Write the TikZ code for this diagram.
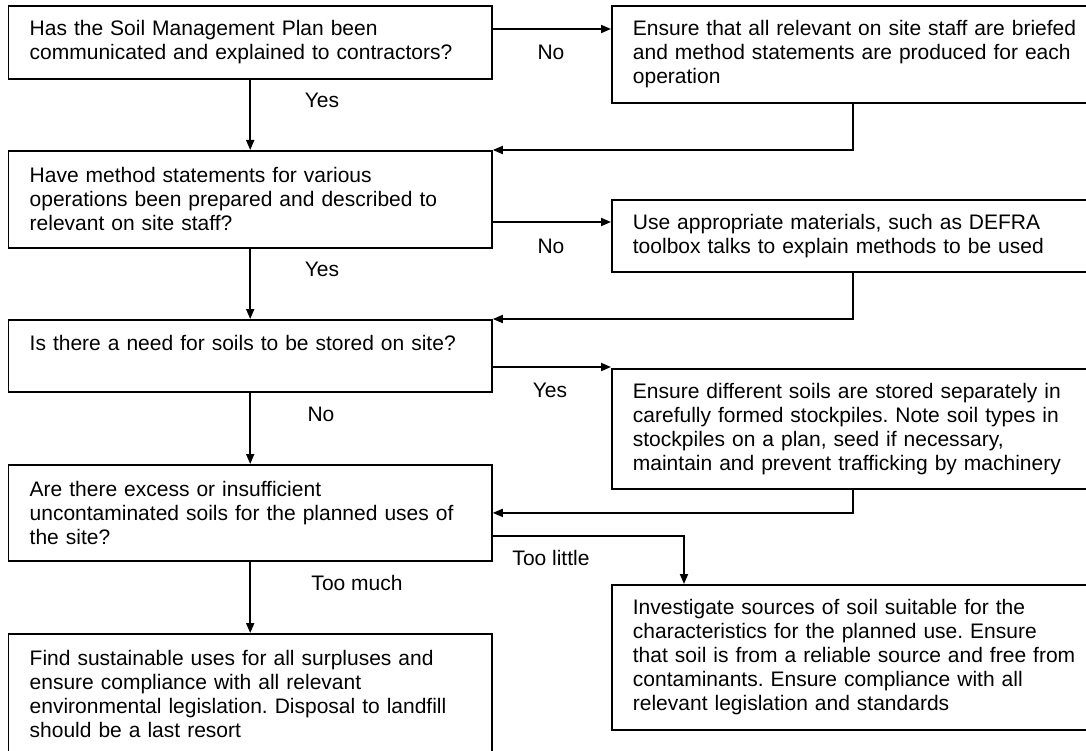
\documentclass[tikz,border=0pt]{standalone}
\usepackage{fontspec}
\setmainfont{Liberation Sans}
\usepackage{tikz}
\usetikzlibrary{arrows.meta}
\frenchspacing

\begin{document}
\begin{tikzpicture}[x=1pt, y=-1pt,
	box/.style={draw, line width=1.8pt, anchor=north west, inner xsep=21pt, inner ysep=0pt, align=left, font=\fontsize{21}{24}\selectfont},
	qbox/.style={box, minimum width=483.4pt, text width=441pt},
	abox/.style={box, minimum width=502pt, text width=460pt},
	lbl/.style={inner sep=0pt, font=\fontsize{21}{24}\selectfont},
	flow/.style={line width=1.8pt, -{Triangle[length=10pt,width=8pt]}}]
	\useasboundingbox (0,0) rectangle (1086,751);
	\node (q1) at (7.6,5) [qbox, minimum height=73pt] {Has the Soil Management Plan been\\communicated and explained to contractors?};
	\node (q2) at (7.6,150) [qbox, minimum height=97pt] {Have method statements for various\\operations been prepared and described to\\relevant on site staff?};
	\node (q3) at (7.6,319) [qbox, minimum height=72pt, text height=31pt, text depth=41pt] {Is there a need for soils to be stored on site?};
	\node (q4) at (7.6,464) [qbox, minimum height=96pt] {Are there excess or insufficient\\uncontaminated soils for the planned uses of\\the site?};
	\node (q5) at (7.6,633) [qbox, minimum height=120pt] {Find sustainable uses for all surpluses and\\ensure compliance with all relevant\\environmental legislation. Disposal to landfill\\should be a last resort};
	\node (a1) at (611,5) [abox, minimum height=97pt] {Ensure that all relevant on site staff are briefed\\and method statements are produced for each\\operation};
	\node (a2) at (611,199) [abox, minimum height=72pt] {Use appropriate materials, such as DEFRA\\toolbox talks to explain methods to be used};
	\node (a3) at (611,368) [abox, minimum height=120pt] {Ensure different soils are stored separately in\\carefully formed stockpiles. Note soil types in\\stockpiles on a plan, seed if necessary,\\maintain and prevent trafficking by machinery};
	\node (a4) at (611,584) [abox, minimum height=145pt] {Investigate sources of soil suitable for the\\characteristics for the planned use. Ensure\\that soil is from a reliable source and free from\\contaminants. Ensure compliance with all\\relevant legislation and standards};

	\draw[flow] (q1.south) -- (q2.north);
	\draw[flow] (q2.south) -- (q3.north);
	\draw[flow] (q3.south) -- (q4.north);
	\draw[flow] (q4.south) -- (q5.north);
	\draw[flow] ([yshift=-24pt]q1.north east) coordinate (s1) -- (s1 -| a1.west);
	\draw[flow] ([yshift=-72pt]q2.north east) coordinate (s2) -- (s2 -| a2.west);
	\draw[flow] ([yshift=-48pt]q3.north east) coordinate (s3) -- (s3 -| a3.west);
	\draw[flow] ([xshift=242pt]a1.south west) |- (q2.north east);
	\draw[flow] ([xshift=242pt]a2.south west) |- (q3.north east);
	\draw[flow] ([xshift=242pt]a3.south west) |- (q4.east);
	\draw[flow] ([yshift=-72pt]q4.north east) -| ([xshift=73pt]a4.north west);

	\node (n1) at (551,52) [lbl] {No};
	\node (n2) at (551,246) [lbl] {No};
	\node (y1) at (322,100) [lbl] {Yes};
	\node (y2) at (322,269) [lbl] {Yes};
	\node (y3) at (550,390) [lbl] {Yes};
	\node (n3) at (321,414) [lbl] {No};
	\node (much) at (357,583) [lbl] {Too much};
	\node (little) at (551,558) [lbl] {Too little};
\end{tikzpicture}
\end{document}
